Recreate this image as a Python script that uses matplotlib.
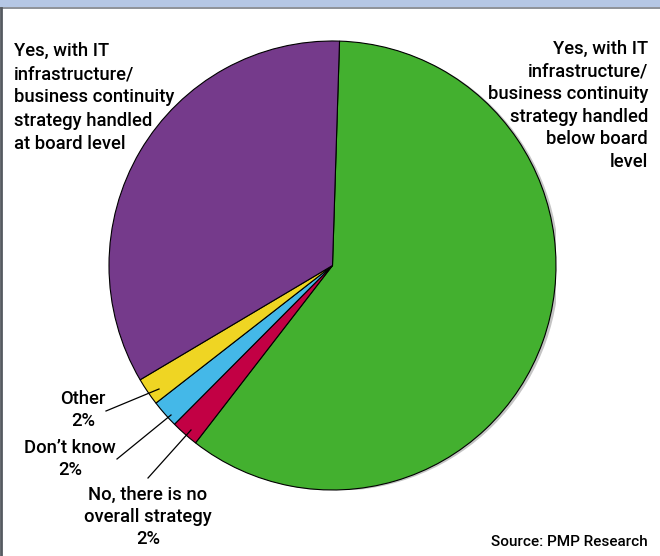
import matplotlib
matplotlib.use("Agg")
import matplotlib.pyplot as plt
from matplotlib.patches import Rectangle, Ellipse
from matplotlib.transforms import ScaledTranslation

categories = ["Yes, with IT infrastructure/business continuity strategy handled below board level",
              "No, there is no overall strategy", "Don't know", "Other",
              "Yes, with IT infrastructure/business continuity strategy handled at board level"]
values = [60, 2, 2, 2, 34]
colors = ["#43b02f", "#c20044", "#44b8e8", "#efd523", "#753a8b"]

plt.rcParams['font.family'] = ['Roboto', 'DejaVu Sans']

W, H = 660, 556
fig = plt.figure(figsize=(W / 100, H / 100), dpi=100)
fig.patch.set_facecolor("white")

# frame decorations
fig.patches.append(Rectangle((0, 1 - 7 / H), 1, 7 / H, transform=fig.transFigure,
                             facecolor="#b5c7e5", edgecolor="none", zorder=0))
fig.lines.append(plt.Line2D([0, 1], [1 - 7.5 / H, 1 - 7.5 / H], transform=fig.transFigure,
                            color="#7a7f88", lw=1.2))
fig.lines.append(plt.Line2D([1 / W, 1 / W], [0, 1 - 7.5 / H], transform=fig.transFigure,
                            color="#555a60", lw=2.0))

x0, x1, yt, yb = 109, 556, 41, 490
ax = fig.add_axes([x0 / W, 1 - yb / H, (x1 - x0) / W, (yb - yt) / H])
# soft shadow on the right edge
shadow = Ellipse((0, 0), 2, 2, facecolor="#c4c4c4", edgecolor="none", zorder=0,
                 transform=ax.transData + ScaledTranslation(3 / 100, -1 / 100, fig.dpi_scale_trans))
ax.add_patch(shadow)
ax.pie(values, colors=colors, startangle=88.2, counterclock=False,
       wedgeprops=dict(edgecolor="black", linewidth=0.8))
ax.set_aspect("auto")
ax.set_xlim(-1, 1)
ax.set_ylim(-1, 1)
ax.axis("off")

fs = 13.3
def px(x, y):
    return x / W, 1 - y / H

fig.text(*px(14, 42), "Yes, with IT\ninfrastructure/\nbusiness continuity\nstrategy handled\nat board level",
         ha="left", va="top", fontsize=fs, linespacing=1.37, fontweight="medium")
fig.text(*px(648, 40), "Yes, with IT\ninfrastructure/\nbusiness continuity\nstrategy handled\nbelow board\nlevel",
         ha="right", va="top", fontsize=fs, linespacing=1.33, multialignment="right",
         fontweight="medium")
fig.text(*px(83, 410), "Other\n2%", ha="center", va="center", fontsize=fs, linespacing=1.32,
         fontweight="medium")
fig.text(*px(70, 459), "Don\u2019t know\n2%", ha="center", va="center", fontsize=fs, linespacing=1.32,
         fontweight="medium")
fig.text(*px(148, 517), "No, there is no\noverall strategy\n2%", ha="center", va="center",
         fontsize=fs, linespacing=1.32, fontweight="medium")
fig.text(*px(648, 542), "Source: PMP Research", ha="right", va="center", fontsize=11,
         fontweight="medium")

for (a, b), (c, d) in [((106, 411), (159, 389)), ((117, 459), (171, 415)), ((148, 478), (191, 430))]:
    fig.lines.append(plt.Line2D([a / W, c / W], [1 - b / H, 1 - d / H], transform=fig.transFigure,
                                color="black", lw=0.9))

fig.savefig("out.png", dpi=100)
